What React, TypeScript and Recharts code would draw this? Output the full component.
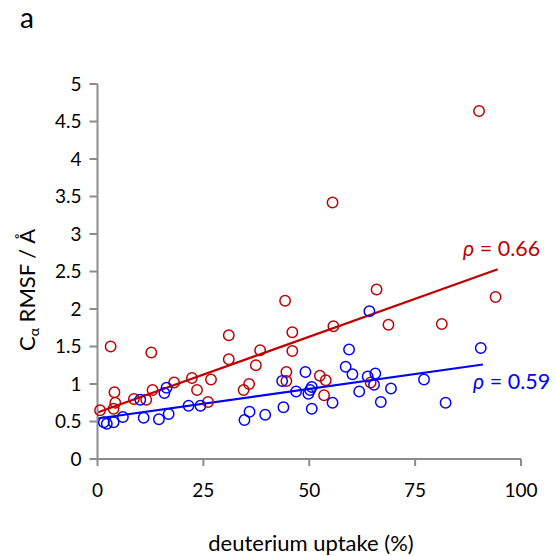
import { ScatterChart, Scatter, XAxis, YAxis, ReferenceLine } from "recharts";

// deuterium uptake (%) vs C-alpha RMSF, two sets
const redX = [0.6, 3.1, 4.0, 4.2, 3.8, 8.6, 11.5, 12.7, 13.0, 18.1, 22.3, 23.5, 26.8, 26.1, 31.0, 31.0, 34.5, 35.8, 37.4, 38.4, 44.3, 44.6, 44.6, 46.0, 46.0, 52.5, 53.9, 53.5, 55.5, 55.7, 64.5, 65.9, 68.7, 81.3, 90.1, 94.0];
const redY = [0.65, 1.5, 0.89, 0.75, 0.67, 0.8, 0.79, 1.42, 0.92, 1.02, 1.08, 0.92, 1.06, 0.76, 1.65, 1.33, 0.92, 1.0, 1.25, 1.45, 2.11, 1.16, 1.04, 1.69, 1.44, 1.11, 1.05, 0.85, 3.42, 1.77, 1.02, 2.26, 1.79, 1.8, 4.64, 2.16];

const blueX = [1.5, 2.2, 3.8, 6.0, 10.1, 10.9, 14.5, 15.8, 16.3, 16.8, 21.5, 24.3, 34.7, 35.9, 39.6, 43.6, 43.9, 46.9, 49.1, 49.8, 50.2, 50.6, 50.6, 55.5, 58.6, 59.4, 60.2, 61.8, 63.8, 64.2, 65.3, 65.6, 66.9, 69.3, 77.1, 82.2, 90.5];
const blueY = [0.49, 0.47, 0.49, 0.56, 0.79, 0.55, 0.53, 0.88, 0.95, 0.6, 0.71, 0.71, 0.52, 0.63, 0.59, 1.04, 0.69, 0.9, 1.16, 0.87, 0.92, 0.96, 0.67, 0.75, 1.23, 1.46, 1.13, 0.9, 1.1, 1.97, 0.99, 1.14, 0.76, 0.94, 1.06, 0.75, 1.48];

// trend line end points [x, y]
const redFit = [[0, 0.62], [94.5, 2.53]];
const blueFit = [[0, 0.54], [91, 1.26]];

const xTicks = [0, 25, 50, 75, 100];
const yTicks = [0, 0.5, 1, 1.5, 2, 2.5, 3, 3.5, 4, 4.5, 5];

const RED = "#C00000";
const BLUE = "#0000FF";
const AXIS = "#8c8c8c";
const INK = "#000";
const FONT = "Lato, 'Open Sans', sans-serif";

const redData = redX.map((x, i) => ({ x, y: redY[i] }));
const blueData = blueX.map((x, i) => ({ x, y: blueY[i] }));

const ring = (color: string) => (props: any) => (
  <circle cx={props.cx} cy={props.cy} r={5.2} fill="none" stroke={color} strokeWidth={1.5} />
);

export default function App() {
  return (
    <div style={{ position: "absolute", left: 0, top: 0, width: 556, height: 556, background: "#fff" }}>
      <ScatterChart width={556} height={556} margin={{ top: 84, right: 35, left: 37.5, bottom: 57 }}>
        <XAxis
          type="number"
          dataKey="x"
          domain={[0, 100]}
          ticks={xTicks}
          height={40}
          stroke={AXIS}
          strokeWidth={2}
          tickSize={7}
          tickMargin={18}
          tick={{ fill: INK, fontSize: 19, fontFamily: FONT }}
        />
        <YAxis
          type="number"
          dataKey="y"
          domain={[0, 5]}
          ticks={yTicks}
          width={60}
          stroke={AXIS}
          strokeWidth={2}
          tickSize={8}
          tickMargin={8}
          tick={{ fill: INK, fontSize: 19, fontFamily: FONT }}
        />
        <ReferenceLine
          segment={[{ x: redFit[0][0], y: redFit[0][1] }, { x: redFit[1][0], y: redFit[1][1] }]}
          stroke={RED}
          strokeWidth={2.2}
        />
        <ReferenceLine
          segment={[{ x: blueFit[0][0], y: blueFit[0][1] }, { x: blueFit[1][0], y: blueFit[1][1] }]}
          stroke={BLUE}
          strokeWidth={2.2}
        />
        <Scatter data={redData} shape={ring(RED)} isAnimationActive={false} />
        <Scatter data={blueData} shape={ring(BLUE)} isAnimationActive={false} />
      </ScatterChart>
      <svg width={556} height={556} style={{ position: "absolute", left: 0, top: 0, pointerEvents: "none" }}>
        <text x={20} y={28} fontSize={28} fontFamily={FONT} fill={INK}>a</text>
        <text x={463} y={256} fontSize={21.5} fontFamily={FONT} fill={RED}>
          <tspan fontStyle="italic">ρ</tspan> = 0.66
        </text>
        <text x={473} y={389} fontSize={21.5} fontFamily={FONT} fill={BLUE}>
          <tspan fontStyle="italic">ρ</tspan> = 0.59
        </text>
        <text x={311} y={551} fontSize={22} fontFamily={FONT} fill={INK} textAnchor="middle">
          deuterium uptake (%)
        </text>
        <text
          transform="translate(35,290) rotate(-90)"
          fontSize={22}
          fontFamily={FONT}
          fill={INK}
          textAnchor="middle"
        >
          C<tspan fontSize={14} dy={4}>α</tspan>
          <tspan dy={-4}> RMSF / Å</tspan>
        </text>
      </svg>
    </div>
  );
}
